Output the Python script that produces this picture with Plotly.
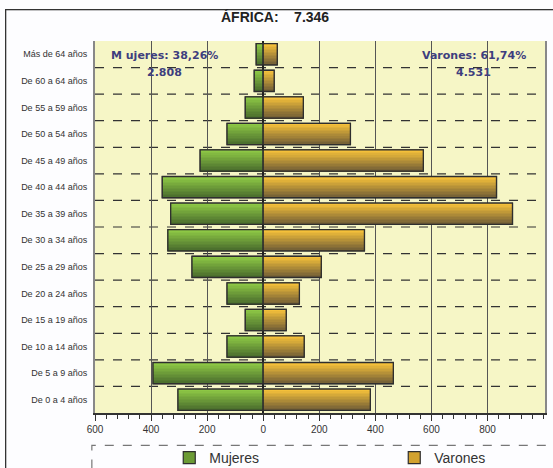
import plotly.graph_objects as go

categories = ["De 0 a 4 años", "De 5 a 9 años", "De 10 a 14 años", "De 15 a 19 años",
              "De 20 a 24 años", "De 25 a 29 años", "De 30 a 34 años", "De 35 a 39 años",
              "De 40 a 44 años", "De 45 a 49 años", "De 50 a 54 años", "De 55 a 59 años",
              "De 60 a 64 años", "Más de 64 años"]
mujeres = [304, 393, 129, 64, 129, 254, 340, 330, 360, 225, 129, 64, 32, 25]
varones = [382, 464, 146, 82, 129, 207, 361, 889, 832, 571, 311, 143, 39, 50]
tick_vals = [-600, -400, -200, 0, 200, 400, 600, 800]
tick_text = ["600", "400", "200", "0", "200", "400", "600", "800"]

BAR_W = 0.8
N_STRIPS = 14


def lerp(c1, c2, t):
    a = [int(c1[i:i + 2], 16) for i in (1, 3, 5)]
    b = [int(c2[i:i + 2], 16) for i in (1, 3, 5)]
    return "rgb(%d,%d,%d)" % tuple(round(a[j] + (b[j] - a[j]) * t) for j in range(3))


def add_series(xvals, name, light, dark, mid, legend):
    fig.add_trace(go.Bar(y=categories, x=xvals, orientation="h", name=name, legend=legend,
                         marker=dict(color=mid, line=dict(color="#2E2E2E", width=1.2)),
                         width=BAR_W, hoverinfo="skip"))
    sw = BAR_W / N_STRIPS
    for k in range(N_STRIPS):
        t = k / (N_STRIPS - 1)
        fig.add_trace(go.Bar(y=categories, x=xvals, orientation="h", showlegend=False,
                             marker=dict(color=lerp(dark, light, t), line=dict(width=0)),
                             width=sw * 1.05, offset=-BAR_W / 2 + k * sw, hoverinfo="skip"))
    fig.add_trace(go.Bar(y=categories, x=xvals, orientation="h", showlegend=False, name=name,
                         marker=dict(color="rgba(0,0,0,0)", line=dict(color="#2E2E2E", width=1.3)),
                         width=BAR_W))


fig = go.Figure()
add_series([-v for v in mujeres], "Mujeres", "#8DC745", "#486A2C", "#6C9B35", "legend")
add_series(varones, "Varones", "#F4C03A", "#6E5B36", "#D2A22F", "legend2")

shapes = []
for i in range(len(categories) - 1):
    shapes.append(dict(type="line", xref="paper", yref="y", x0=0, x1=1, y0=i + 0.5, y1=i + 0.5,
                       line=dict(color="#333333", width=1.2, dash="dash"), layer="below"))
# legend dashed box
shapes.append(dict(type="rect", xref="paper", yref="paper", x0=-0.007, x1=1.05, y0=-0.25, y1=-0.087,
                   line=dict(color="#777777", width=1.2, dash="dash")))

leg_common = dict(orientation="h", y=-0.121, yanchor="middle", xanchor="left",
                  font=dict(size=14, color="#333333"), bgcolor="rgba(0,0,0,0)")

fig.update_layout(
    width=553, height=468,
    margin=dict(l=95, r=8, t=41, b=55, autoexpand=False),
    paper_bgcolor="#FDFDFF",
    plot_bgcolor="#F6F6C6",
    barmode="overlay",
    font=dict(family="Liberation Sans, Arial", color="#333333"),
    showlegend=True,
    legend=dict(x=0.165, **leg_common),
    legend2=dict(x=0.665, **leg_common),
    shapes=shapes,
    annotations=[
        # outer frame (only the left and top edges fall inside the picture)
        dict(text=" ", xref="paper", yref="paper", x=-0.2, y=1.086, xanchor="left", yanchor="top",
             width=570, height=480, showarrow=False, bordercolor="#333333", borderwidth=1.3,
             borderpad=0),
        dict(text="<b>ÁFRICA:\u00a0\u00a0\u00a0\u00a07.346</b>", xref="paper", yref="paper", x=0.4, y=1.065,
             showarrow=False, font=dict(size=14, color="#222222", family="Liberation Sans, Arial"),
             xanchor="center", yanchor="middle"),
        dict(text="<b>M ujeres: 38,26%</b>", xref="paper", yref="paper", x=0.155, y=0.962,
             showarrow=False, font=dict(size=11, color="#3E3E7E", family="DejaVu Sans"),
             xanchor="center", yanchor="middle"),
        dict(text="<b>2.808</b>", xref="paper", yref="paper", x=0.155, y=0.914,
             showarrow=False, font=dict(size=11, color="#3E3E7E", family="DejaVu Sans"),
             xanchor="center", yanchor="middle"),
        dict(text="<b>Varones: 61,74%</b>", xref="paper", yref="paper", x=0.842, y=0.962,
             showarrow=False, font=dict(size=11, color="#3E3E7E", family="DejaVu Sans"),
             xanchor="center", yanchor="middle"),
        dict(text="<b>4.531</b>", xref="paper", yref="paper", x=0.842, y=0.914,
             showarrow=False, font=dict(size=11, color="#3E3E7E", family="DejaVu Sans"),
             xanchor="center", yanchor="middle"),
    ],
)

fig.update_xaxes(range=[-600, 1005], tickvals=tick_vals, ticktext=tick_text, automargin=False,
                 showgrid=True, gridcolor="#555555", gridwidth=1,
                 zeroline=True, zerolinecolor="#222222", zerolinewidth=1.5,
                 ticks="outside", ticklen=6, tickcolor="#333333",
                 minor=dict(dtick=40, ticks="outside", ticklen=4, tickcolor="#333333", showgrid=False),
                 showline=True, linecolor="#333333", linewidth=1.5, mirror=False,
                 tickfont=dict(size=10, color="#333333"))
fig.update_yaxes(categoryorder="array", categoryarray=categories, showgrid=False, automargin=False,
                 showline=True, linecolor="#888888", linewidth=2, mirror=True,
                 ticks="", ticklabelstandoff=4, tickfont=dict(size=9, color="#333333"))

fig.write_html("out.html", config={"displayModeBar": False},
               post_script="document.body.style.margin='0';")
